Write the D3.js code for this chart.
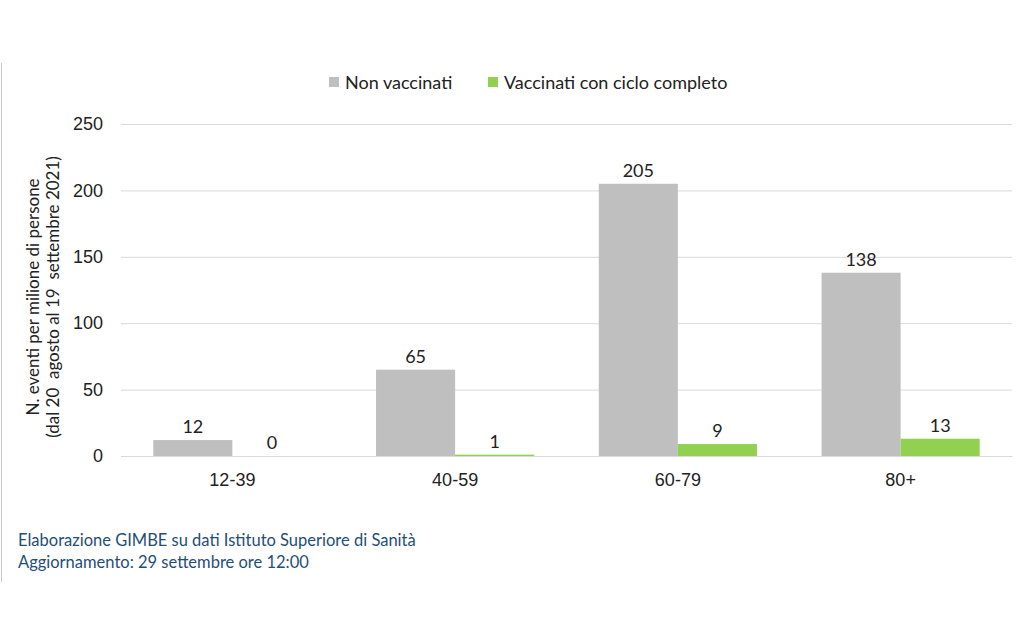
<!DOCTYPE html>
<html><head><meta charset="utf-8">
<script src="https://cdn.jsdelivr.net/npm/d3@7/dist/d3.min.js"></script>
<style>body{margin:0;background:#fff}svg{display:block;font-family:Lato,"Open Sans",sans-serif}</style>
</head><body>
<script>
const categories = ["12-39","40-59","60-79","80+"];
const seriesNames = ["Non vaccinati","Vaccinati con ciclo completo"];
const nonVaccinati = [12,65,205,138];
const vaccinati = [0,1,9,13];
const yTicks = [0,50,100,150,200,250];
const colors = ["#BFBFBF","#92D050"];

const W=1024,H=643;
const svg=d3.select("body").append("svg").attr("width",W).attr("height",H);
const m={l:121,r:1012,t:124,b:456};
const x=d3.scaleBand().domain(categories).range([m.l,m.r]).paddingInner(0.29).paddingOuter(0.145);
const xs=d3.scaleBand().domain(seriesNames).range([0,x.bandwidth()]);
const y=d3.scaleLinear().domain([0,250]).range([m.b,m.t]);

svg.append("line").attr("x1",1.5).attr("x2",1.5).attr("y1",63).attr("y2",582).attr("stroke","#c8c8c8").attr("stroke-width",1);

const ya=svg.append("g").attr("transform",`translate(${m.l},0)`)
 .call(d3.axisLeft(y).tickValues(yTicks).tickSize(-(m.r-m.l)).tickPadding(18));
ya.select(".domain").remove();
ya.selectAll(".tick line").attr("stroke","#D9D9D9");
ya.selectAll(".tick text").attr("font-size",18).attr("fill","#222");

const xa=svg.append("g").attr("transform",`translate(0,${m.b})`).call(d3.axisBottom(x).tickSize(0).tickPadding(17));
xa.select(".domain").attr("stroke","#D9D9D9");
xa.selectAll(".tick text").attr("font-size",18).attr("fill","#222");

const data=categories.map((c,i)=>({c,vals:[nonVaccinati[i],vaccinati[i]]}));
const g=svg.append("g");
data.forEach(d=>{
  d.vals.forEach((v,j)=>{
    const bx=x(d.c)+xs(seriesNames[j]);
    g.append("rect").attr("x",bx).attr("width",xs.bandwidth()).attr("y",y(v)).attr("height",y(0)-y(v)).attr("fill",colors[j]);
    g.append("text").attr("x",bx+xs.bandwidth()/2).attr("y",y(v)-7).attr("text-anchor","middle")
     .attr("font-size",18).attr("fill","#222").text(v);
  });
});
svg.append("line").attr("x1",m.l).attr("x2",m.r).attr("y1",m.b+0.5).attr("y2",m.b+0.5).attr("stroke","#D9D9D9");

const leg=svg.append("g");
const legItems=[{n:seriesNames[0],c:colors[0],x:329},{n:seriesNames[1],c:colors[1],x:488}];
legItems.forEach(it=>{
  leg.append("rect").attr("x",it.x).attr("y",77).attr("width",10).attr("height",10).attr("fill",it.c);
  leg.append("text").attr("x",it.x+16).attr("y",89).attr("font-size",18).attr("fill","#222").text(it.n);
});

svg.append("g").attr("transform","translate(39,297) rotate(-90)").append("text").attr("font-size",17).attr("fill","#222").attr("text-anchor","middle")
 .text("N. eventi per milione di persone");
svg.append("g").attr("transform","translate(59,297) rotate(-90)").append("text").attr("font-size",17).attr("fill","#222").attr("text-anchor","middle")
 .attr("xml:space","preserve").text("(dal 20  agosto al 19  settembre 2021)");

svg.append("text").attr("x",18).attr("y",546).attr("font-size",16.5).attr("fill","#1F4E79").text("Elaborazione GIMBE su dati Istituto Superiore di Sanità");
svg.append("text").attr("x",18).attr("y",568).attr("font-size",16.5).attr("fill","#1F4E79").text("Aggiornamento: 29 settembre ore 12:00");
</script>
</body></html>
